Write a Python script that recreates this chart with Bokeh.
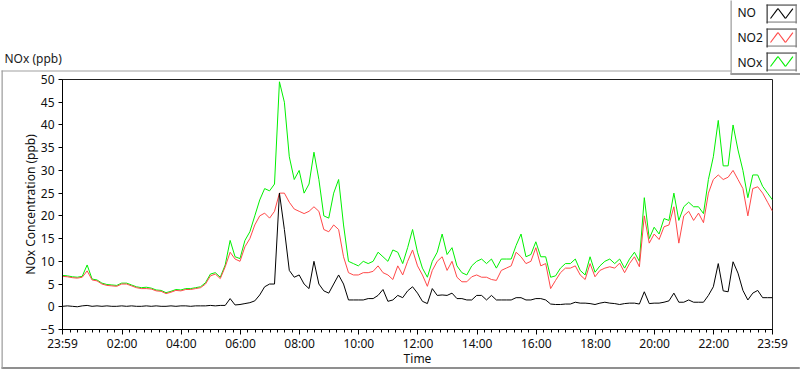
import math
from bokeh.plotting import figure
from bokeh.models import Range1d, FixedTicker, Label, ColumnDataSource
from bokeh.embed import file_html
from bokeh.resources import INLINE

# minutes since 23:59 (10-minute sampling)
minutes = list(range(0, 1441, 10))

no = [
    0.1, 0.2, 0.1, 0.0, 0.2, 0.3, 0.1, 0.2, 0.1, 0.2,
    0.1, 0.1, 0.2, 0.1, 0.2, 0.1, 0.1, 0.2, 0.1, 0.2,
    0.1, 0.1, 0.2, 0.1, 0.2, 0.2, 0.1, 0.2, 0.2, 0.2,
    0.3, 0.2, 0.3, 0.3, 1.8, 0.4, 0.5, 0.7, 0.9, 1.3,
    2.6, 4.4, 5.0, 5.0, 25.0, 17.0, 8.0, 6.5, 7.0, 5.0,
    4.0, 10.0, 5.0, 3.5, 3.0, 5.0, 7.0, 5.0, 1.5, 1.5,
    1.5, 1.5, 1.8, 1.8, 2.5, 3.8, 1.2, 1.5, 2.5, 2.0,
    3.5, 4.4, 3.0, 1.2, 0.7, 4.0, 2.5, 2.6, 2.5, 3.0,
    1.8, 1.8, 1.5, 1.5, 2.5, 2.5, 1.5, 2.5, 1.5, 1.5,
    1.5, 1.5, 2.0, 2.0, 1.5, 1.5, 1.8, 1.8, 1.5, 0.6,
    0.5, 0.5, 0.6, 0.6, 1.0, 0.8, 0.8, 0.7, 0.5, 0.8,
    1.0, 0.8, 0.7, 0.5, 0.7, 0.8, 0.8, 0.6, 3.3, 0.7,
    0.8, 0.8, 1.0, 1.3, 3.0, 1.0, 1.0, 1.5, 1.0, 1.0,
    1.0, 2.5, 4.4, 9.5, 3.5, 3.3, 9.9, 7.4, 3.6, 1.5,
    3.0, 3.6, 2.0, 2.0, 2.0,
]

no2 = [
    6.7, 6.6, 6.4, 6.3, 6.5, 7.9, 5.9, 5.7, 5.0, 4.7,
    4.6, 4.5, 5.0, 5.0, 4.6, 4.2, 4.0, 4.0, 3.9, 3.5,
    3.4, 2.9, 3.2, 3.6, 3.5, 3.8, 3.8, 4.0, 4.2, 5.0,
    6.8, 7.2, 6.2, 8.8, 12.0, 10.5, 10.0, 13.2, 15.0, 18.0,
    20.0, 20.6, 19.5, 21.0, 25.0, 25.0, 23.0, 21.5, 21.0, 20.5,
    21.0, 22.0, 21.0, 17.0, 16.5, 18.0, 17.0, 11.0, 7.5, 7.0,
    7.0, 7.5, 7.5, 7.8, 9.0, 7.5, 7.0, 6.0, 9.0, 7.0,
    10.0, 12.5, 9.0, 7.0, 4.5, 8.0, 10.0, 11.0, 8.0, 10.0,
    6.5, 5.5, 5.5, 6.6, 7.0, 6.5, 6.5, 6.0, 5.8, 8.0,
    8.5, 9.0, 12.0, 11.0, 9.5, 10.0, 13.0, 9.0, 9.5, 4.0,
    5.8, 7.5, 8.5, 8.5, 9.0, 7.0, 6.0, 9.5, 6.6, 8.0,
    8.5, 8.8, 8.5, 9.6, 7.5, 9.5, 11.0, 8.8, 20.0, 14.0,
    16.0, 14.8, 17.6, 18.0, 22.0, 14.0, 20.0, 21.0, 19.0, 20.6,
    18.5, 25.0, 28.0, 29.0, 28.0, 28.5, 30.0, 28.0, 26.0, 20.0,
    26.0, 26.4, 25.0, 23.0, 21.0,
]

nox = [
    6.9, 6.8, 6.6, 6.5, 6.7, 9.2, 6.1, 5.9, 5.2, 4.9,
    4.8, 4.7, 5.2, 5.2, 4.8, 4.4, 4.2, 4.3, 4.1, 3.7,
    3.6, 3.1, 3.4, 3.8, 3.7, 4.0, 4.0, 4.2, 4.4, 5.3,
    7.2, 7.5, 6.5, 9.2, 14.6, 11.0, 10.6, 14.6, 16.5, 20.0,
    23.5, 26.0, 25.5, 27.0, 49.5, 45.0, 33.0, 28.0, 30.0, 25.0,
    27.0, 34.0, 28.0, 20.0, 19.5, 25.0, 28.0, 18.0, 10.0, 9.5,
    9.0, 10.0, 9.5, 10.0, 12.0, 11.0, 10.0, 12.5, 12.0, 9.5,
    13.0, 17.0, 12.0, 8.5, 6.5, 10.0, 12.0, 16.0, 11.5, 13.0,
    9.0, 7.5, 7.0, 9.0, 10.0, 10.5, 9.5, 10.5, 8.5, 10.5,
    10.5, 10.5, 13.5, 16.0, 11.0, 11.5, 14.3, 11.0, 11.0, 6.5,
    6.8, 8.5, 9.5, 9.5, 10.5, 8.0, 7.0, 11.0, 7.6, 9.0,
    10.0, 10.5, 9.5, 10.5, 8.5, 10.5, 12.0, 10.0, 24.0, 15.0,
    17.5, 16.0, 19.4, 19.0, 25.0, 19.0, 22.0, 23.0, 22.0, 22.0,
    20.5, 28.0, 33.0, 41.0, 31.0, 31.0, 40.0, 34.5, 30.0, 24.0,
    29.0, 29.0, 26.5, 25.0, 23.5,
]

x_tick_pos = [0, 121, 241, 361, 481, 601, 721, 841, 961, 1081, 1201, 1321, 1440]
x_tick_labels = ["23:59", "02:00", "04:00", "06:00", "08:00", "10:00", "12:00",
                 "14:00", "16:00", "18:00", "20:00", "22:00", "23:59"]
y_ticks = [-5, 0, 5, 10, 15, 20, 25, 30, 35, 40, 45, 50]

series_names = ["NO", "NO2", "NOx"]
series_colors = ["#000000", "#FF4848", "#00F000"]

FONT = "Noto Sans"
W, H = 800, 369
FL, FR, FT, FB = 62, 772, 79, 329   # frame edges in page pixels

p = figure(width=W, height=H, output_backend="svg", toolbar_location=None,
           x_range=Range1d(0, 1440), y_range=Range1d(-5, 50),
           min_border_left=FL, min_border_right=W - FR,
           min_border_top=FT, min_border_bottom=H - FB)
p.background_fill_color = "white"
p.border_fill_color = "white"
p.outline_line_color = "#202020"
p.xgrid.visible = False
p.ygrid.visible = False

src = ColumnDataSource(dict(t=minutes, no=no, no2=no2, nox=nox))
p.line("t", "nox", source=src, color=series_colors[2], line_width=1)
p.line("t", "no2", source=src, color=series_colors[1], line_width=1)
p.line("t", "no", source=src, color=series_colors[0], line_width=1)

minor = [0] + [1 + 15 * k for k in range(1, 96)] + [1440]
xa = p.xaxis[0]
xa.ticker = FixedTicker(ticks=x_tick_pos, minor_ticks=minor)
xa.major_label_overrides = {pos: lab for pos, lab in zip(x_tick_pos, x_tick_labels)}
xa.axis_label = "Time"
ya = p.yaxis[0]
ya.ticker = FixedTicker(ticks=y_ticks, minor_ticks=[])
ya.axis_label = "NOx Concentration (ppb)"

for ax in (xa, ya):
    ax.axis_line_color = "black"
    ax.major_tick_line_color = "black"
    ax.minor_tick_line_color = "black"
    ax.major_tick_in = 0
    ax.minor_tick_in = 0
    ax.major_label_text_font = FONT
    ax.major_label_text_font_size = "12px"
    ax.major_label_text_color = "#101010"
    ax.axis_label_text_font = FONT
    ax.axis_label_text_font_size = "12px"
    ax.axis_label_text_font_style = "normal"
    ax.axis_label_text_color = "#101010"
xa.major_tick_out = 5
xa.minor_tick_out = 3
xa.major_label_standoff = 0
xa.axis_label_standoff = -5
ya.major_tick_out = 4
ya.major_label_standoff = 4
ya.axis_label_standoff = -1


def make_pad(l, r, t, b):
    try:
        Label(padding=dict(left=l, right=r, top=t, bottom=b))
        return dict(left=l, right=r, top=t, bottom=b)
    except Exception:
        return (l, r, t, b)


def hline(x0, x1, y, color):
    """Thin horizontal bar drawn as an empty label with padding (canvas pixels)."""
    return Label(x=x0, y=y, x_units="canvas", y_units="canvas", text=" ",
                 text_font_size="1px", text_align="left", text_baseline="top",
                 background_fill_color=color,
                 padding=make_pad(0, int(round(x1 - x0)), 0, 0))


def vline(x, y0, y1, color):
    """Thin vertical bar drawn as an empty label with padding (canvas pixels)."""
    return Label(x=x, y=y0, x_units="canvas", y_units="canvas", text=" ",
                 text_font_size="1px", text_align="left", text_baseline="top",
                 background_fill_color=color,
                 padding=make_pad(0, 1, 0, int(round(y1 - y0))))


above, left, right = [], [], []
# outer panel frame lines
above.append(hline(1, 730, 70, "#a0a0a0"))
above.append(hline(1, 799, 367, "#202020"))
left.append(vline(1, 70, 367, "#a0a0a0"))
# title
above.append(Label(x=4, y=58, x_units="canvas", y_units="canvas", text="NOx (ppb)",
                   text_font=FONT, text_font_size="12px", text_color="#202020",
                   text_baseline="middle"))
# legend frame lines
left.append(vline(730, 0, 73, "#a0a0a0"))
above.append(hline(730, 800, 73, "#303030"))
# legend texts (one label, one line per series)
right.append(Label(x=737, y=37, x_units="canvas", y_units="canvas",
                   text="\n".join(series_names),
                   text_font=FONT, text_font_size="12px", text_color="#101010",
                   text_baseline="middle", text_line_height=1.47))
for k, col in enumerate(series_colors):
    cy = 13 + 24 * k
    above.append(hline(766, 796, cy - 9, "#404040"))
    above.append(hline(766, 796, cy + 8, "#808080"))
    left.append(vline(766, cy - 9, cy + 9, "#404040"))
    left.append(vline(795, cy - 9, cy + 9, "#808080"))
    pts = [(770, cy + 5), (777.5, cy - 5), (785, cy + 5), (792.5, cy - 5)]
    for (xa0, ya0), (xa1, ya1) in zip(pts[:-1], pts[1:]):
        length = math.hypot(xa1 - xa0, ya1 - ya0)
        ang = math.atan2(ya0 - ya1, xa1 - xa0)
        above.append(Label(x=xa0, y=ya0, x_units="canvas", y_units="canvas", text=" ",
                           text_font_size="1px", text_align="left", text_baseline="middle",
                           background_fill_color=col, angle=ang,
                           padding=make_pad(0, int(round(length)), 0, 0)))
for d in above:
    p.add_layout(d, "above")
for d in left:
    p.add_layout(d, "left")
for d in right:
    p.add_layout(d, "right")

open("out.html", "w").write(file_html(p, INLINE))
